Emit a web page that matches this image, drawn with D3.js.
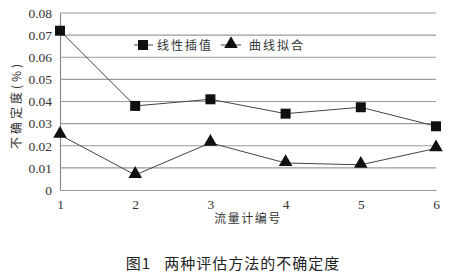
<!DOCTYPE html>
<html><head><meta charset="utf-8">
<script src="https://cdn.jsdelivr.net/npm/d3@7/dist/d3.min.js"></script>
<style>body{margin:0;background:#fff}</style>
</head><body><svg id="c" width="453" height="276"></svg>
<script>
const categories = ["1","2","3","4","5","6"];
const linearInterp = [0.072, 0.038, 0.041, 0.0345, 0.0374, 0.0288];
const curveFit = [0.0249, 0.0068, 0.0213, 0.0122, 0.0114, 0.0188];
const yTicks = [0,0.01,0.02,0.03,0.04,0.05,0.06,0.07,0.08];
const seriesNames = ["线性插值","曲线拟合"];

const svg = d3.select("#c");
const serif = "'Liberation Serif','DejaVu Serif',serif";
const cjk = "'Noto Sans CJK SC',sans-serif";
const x = d3.scalePoint().domain(categories).range([60,436]);
const y = d3.scaleLinear().domain([0,0.08]).range([190,13]);

// gridlines
svg.append("g").selectAll("line").data(yTicks.filter(d=>d>0)).join("line")
  .attr("x1",60).attr("x2",436).attr("y1",d=>y(d)).attr("y2",d=>y(d))
  .attr("stroke","#9a9a9a").attr("stroke-width",1.2);
// axes
const ya = svg.append("g").attr("transform","translate(60,0)")
  .call(d3.axisLeft(y).tickValues(yTicks).tickSize(0).tickPadding(8).tickFormat(d=>d===0?"0":d3.format(".2f")(d)));
ya.select(".domain").attr("stroke","#8a8a8a").attr("stroke-width",1.2);
ya.selectAll("text").attr("font-family",serif).attr("font-size",13.5).attr("fill","#333");
const xa = svg.append("g").attr("transform","translate(0,190)")
  .call(d3.axisBottom(x).tickSize(0).tickPadding(9));
xa.select(".domain").attr("stroke","#9a9a9a").attr("stroke-width",1.2);
xa.selectAll("text").attr("font-family",serif).attr("font-size",13.5).attr("fill","#333");

const line = d3.line().x((d,i)=>x(categories[i])).y(d=>y(d));
svg.append("path").attr("d",line(linearInterp)).attr("fill","none").attr("stroke","#444").attr("stroke-width",1);
svg.append("path").attr("d",line(curveFit)).attr("fill","none").attr("stroke","#444").attr("stroke-width",1);

const sq = d3.symbol().type(d3.symbolSquare).size(100);
const tri = d3.symbol().type(d3.symbolTriangle).size(80);
svg.append("g").selectAll("path").data(linearInterp).join("path")
  .attr("transform",(d,i)=>`translate(${x(categories[i])},${y(d)})`).attr("d",sq).attr("fill","#111");
svg.append("g").selectAll("path").data(curveFit).join("path")
  .attr("transform",(d,i)=>`translate(${x(categories[i])},${y(d)-1})`).attr("d",tri).attr("fill","#111");

// legend
const lg = svg.append("g");
lg.append("line").attr("x1",134).attr("x2",153).attr("y1",45).attr("y2",45).attr("stroke","#444");
lg.append("path").attr("transform","translate(143,45)").attr("d",sq).attr("fill","#111");
lg.append("text").attr("x",157).attr("y",50).text(seriesNames[0]).attr("font-family",cjk).attr("font-size",12).attr("fill","#333").attr("letter-spacing",2);
lg.append("line").attr("x1",221).attr("x2",241).attr("y1",45).attr("y2",45).attr("stroke","#444");
lg.append("path").attr("transform","translate(231,44)").attr("d",tri).attr("fill","#111");
lg.append("text").attr("x",249).attr("y",50).text(seriesNames[1]).attr("font-family",cjk).attr("font-size",12).attr("fill","#333").attr("letter-spacing",2);

// axis titles
svg.append("text").attr("transform","translate(21,105) rotate(-90)").attr("text-anchor","middle")
  .attr("font-family",cjk).attr("font-size",12).attr("fill","#333").attr("letter-spacing",3).text("不确定度(%)");
svg.append("text").attr("x",248).attr("y",223).attr("text-anchor","middle")
  .attr("font-family",cjk).attr("font-size",12).attr("fill","#333").attr("letter-spacing",1.5).text("流量计编号");
svg.append("text").attr("x",233).attr("y",269).attr("text-anchor","middle")
  .attr("font-family",cjk).attr("font-size",15).attr("fill","#222").attr("letter-spacing",1).attr("xml:space","preserve").text("图1   两种评估方法的不确定度");
</script></body></html>
